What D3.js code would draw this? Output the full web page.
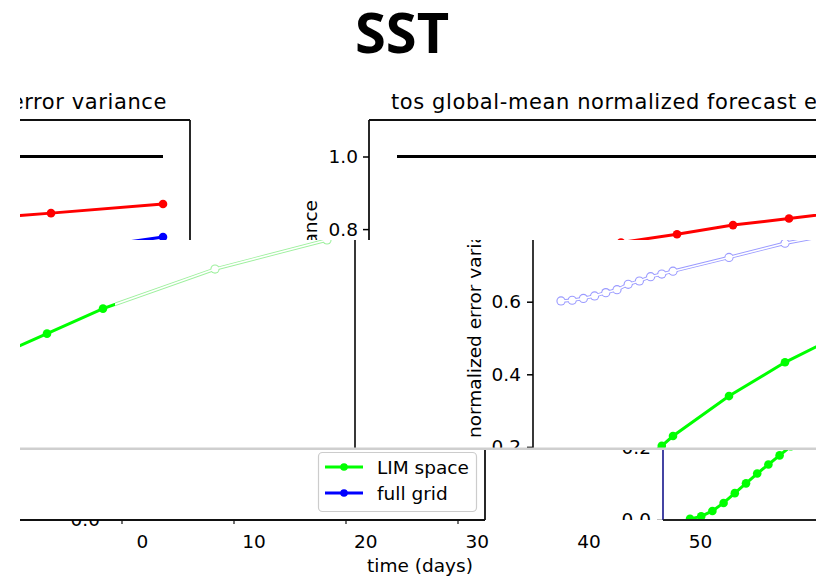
<!DOCTYPE html>
<html>
<head>
<meta charset="utf-8">
<script src="https://cdnjs.cloudflare.com/ajax/libs/d3/7.8.5/d3.min.js"></script>
<style>
  body { margin: 0; background: #fff; }
  text { font-family: "DejaVu Sans", sans-serif; }
</style>
</head>
<body>
<div id="chart"></div>
<script>
// ---- data ----
// right panel (lags in days)
var rightLags   = [0, 1, 2, 3, 4, 5, 6, 7, 8, 9, 10, 15, 20, 25, 30, 35, 40];
var limSpace    = [0.003, 0.010, 0.025, 0.047, 0.074, 0.101, 0.128, 0.153, 0.178, 0.203, 0.230, 0.340, 0.433, 0.510, 0.575, 0.630, 0.675];
var fullGrid    = [0.602, 0.604, 0.609, 0.616, 0.625, 0.633, 0.648, 0.657, 0.669, 0.676, 0.684, 0.722, 0.761, 0.790, 0.815, 0.835, 0.852];
var redSeries   = [0.630, 0.642, 0.654, 0.665, 0.676, 0.686, 0.696, 0.705, 0.714, 0.722, 0.730, 0.745, 0.763, 0.786, 0.811, 0.829, 0.848];
var refDays     = [0, 40];
var refValues   = [1.0, 1.0];

// left panel
var leftLags    = [15, 20, 25, 35, 45];
var leftLim     = [0.444, 0.512, 0.581, 0.690, 0.770];
var leftFull    = [0.640, 0.665, 0.690, 0.735, 0.778];
var leftRed     = [0.795, 0.807, 0.820, 0.844, 0.869];
var leftRefDays = [15, 45];

// axes / text
var xTickDays   = [0, 10, 20, 30, 40, 50];
var legendNames = ["LIM space", "full grid"];
var legendColors = ["#00ff00", "#0000ff"];
var mainTitle   = "SST";
var panelTitle  = "tos global-mean normalized forecast error variance";
var yLabel      = "normalized error variance";
var xLabel      = "time (days)";

var W = 825, H = 579;
var FS = 18.5;

var svg = d3.select("#chart").append("svg")
    .attr("width", W)
    .attr("height", H);
var defs = svg.append("defs");

function clip(id, x, y, w, h) {
    defs.append("clipPath").attr("id", id)
        .append("rect").attr("x", x).attr("y", y).attr("width", w).attr("height", h);
    return "url(#" + id + ")";
}

function pairs(days, vals) { return d3.zip(days, vals); }

function solidSeries(g, days, vals, x, y, color, withMarkers) {
    var line = d3.line().x(d => x(d[0])).y(d => y(d[1]));
    var data = pairs(days, vals);
    g.append("path").attr("d", line(data))
        .attr("fill", "none").attr("stroke", color).attr("stroke-width", 3);
    if (withMarkers) {
        g.selectAll(null).data(data).enter().append("circle")
            .attr("cx", d => x(d[0])).attr("cy", d => y(d[1]))
            .attr("r", 4.3).attr("fill", color);
    }
}

// glitchy outline-only rendering of a line with markers
function faintSeries(g, days, vals, x, y, color) {
    var line = d3.line().x(d => x(d[0])).y(d => y(d[1]));
    var data = pairs(days, vals);
    g.append("path").attr("d", line(data))
        .attr("fill", "none").attr("stroke", color).attr("stroke-width", 3.4);
    g.selectAll(null).data(data).enter().append("circle")
        .attr("cx", d => x(d[0])).attr("cy", d => y(d[1]))
        .attr("r", 4.6).attr("fill", color);
    g.append("path").attr("d", line(data))
        .attr("fill", "none").attr("stroke", "#fff").attr("stroke-width", 1.6);
    g.selectAll(null).data(data).enter().append("circle")
        .attr("cx", d => x(d[0])).attr("cy", d => y(d[1]))
        .attr("r", 3.5).attr("fill", "#fff");
}

function yTicks(g, scale, xPos, ticks, pad) {
    var ax = g.append("g")
        .attr("transform", "translate(" + xPos + ",0)")
        .call(d3.axisLeft(scale).tickValues(ticks).tickFormat(d3.format(".1f")).tickSize(6).tickPadding(pad));
    ax.select(".domain").remove();
    ax.attr("font-size", FS).attr("font-family", "DejaVu Sans");
    ax.selectAll("line").attr("stroke-width", 1.5);
    return ax;
}

function vline(g, x, y1, y2, color) {
    g.append("line").attr("x1", x).attr("x2", x).attr("y1", y1).attr("y2", y2)
        .attr("stroke", color || "#111").attr("stroke-width", 1.8);
}
function hline(g, y, x1, x2, color) {
    g.append("line").attr("x1", x1).attr("x2", x2).attr("y1", y).attr("y2", y)
        .attr("stroke", color || "#111").attr("stroke-width", 1.8);
}

// suptitle
svg.append("text")
    .attr("x", 402).attr("y", 53)
    .attr("text-anchor", "middle")
    .style("font-family", "'Open Sans', sans-serif")
    .style("font-weight", 700)
    .style("font-size", "56px")
    .text(mainTitle);

// ================= band 1 =================
var b1 = svg.append("g").attr("clip-path", clip("c1", 20, 60, 796, 180));
var yB1 = d3.scaleLinear().domain([0, 1]).range([519.5, 156.5]);

// left panel fragment
var xL1 = d3.scaleLinear().domain([35, 45]).range([51, 163]);
b1.append("text").attr("x", 167).attr("y", 109).attr("text-anchor", "end")
    .attr("font-size", 21).attr("letter-spacing", 0.6).text(panelTitle);
hline(b1, 120, 20, 190);
vline(b1, 190, 120, 240);
solidSeries(b1, leftRefDays, refValues, xL1, yB1, "#000", false);
solidSeries(b1, leftLags, leftRed, xL1, yB1, "#ff0000", true);
solidSeries(b1, leftLags, leftFull, xL1, yB1, "#0000ff", true);

// right panel
var xR1 = d3.scaleLinear().domain([0, 10]).range([397, 509]);
b1.append("text").attr("x", 391).attr("y", 109)
    .attr("font-size", 21).attr("letter-spacing", 0.6).text(panelTitle);
b1.append("text")
    .attr("transform", "translate(317,200) rotate(-90)")
    .attr("text-anchor", "end")
    .attr("font-size", FS).text(yLabel);
hline(b1, 120, 369, 816);
vline(b1, 369, 120, 240);
yTicks(b1, yB1, 369, [0.8, 1.0], 5);
solidSeries(b1, refDays, refValues, xR1, yB1, "#000", false);
solidSeries(b1, rightLags, redSeries, xR1, yB1, "#ff0000", true);

// ================= band 2 =================
var b2 = svg.append("g").attr("clip-path", clip("c2", 20, 240, 796, 208));
var yB2 = d3.scaleLinear().domain([0, 1]).range([519.5, 156.5]);

// left panel, LIM space line (solid part, then outline part)
var xL2 = d3.scaleLinear().domain([20, 25]).range([47, 103]);
var b2faint = b2.append("g").attr("clip-path", clip("c2f", 115, 200, 300, 260));
faintSeries(b2faint, leftLags, leftLim, xL2, yB2, "#9ef09e");
var b2solid = b2.append("g").attr("clip-path", clip("c2s", 0, 200, 115, 260));
solidSeries(b2solid, leftLags, leftLim, xL2, yB2, "#00ff00", true);
vline(b2, 355, 240, 448, "#222");

// right panel
var xR2 = d3.scaleLinear().domain([0, 10]).range([561, 673]);
b2.append("text")
    .attr("transform", "translate(481,438) rotate(-90)")
    .attr("font-size", FS).text(yLabel);
vline(b2, 533, 240, 448, "#222");
yTicks(b2, yB2, 533, [0.2, 0.4, 0.6], 6);
faintSeries(b2, rightLags, fullGrid, xR2, yB2, "#9a9aff");
solidSeries(b2, rightLags, limSpace, xR2, yB2, "#00ff00", true);

// separator
svg.append("rect").attr("x", 20).attr("y", 447.5).attr("width", 796).attr("height", 2.5)
    .attr("fill", "#cfcfcf");

// ================= band 3 =================
var b3 = svg.append("g").attr("clip-path", clip("c3", 20, 450, 796, 129));
var yB3 = d3.scaleLinear().domain([0, 1]).range([520, 157]);

// left panel bottom
hline(b3, 520, 20, 485);
vline(b3, 485, 450, 520);
var tickMarks = d3.scaleLinear().domain([0, 10]).range([122, 234]);
b3.selectAll(null).data(xTickDays.filter(d => tickMarks(d) < 485)).enter().append("line")
    .attr("x1", d => tickMarks(d)).attr("x2", d => tickMarks(d))
    .attr("y1", 520).attr("y2", 524)
    .attr("stroke", "#111").attr("stroke-width", 1.2);

var lowHalf = b3.append("g").attr("clip-path", clip("c3l", 20, 520, 200, 30));
var leftZero = yTicks(lowHalf, yB3, 110, [0.0], 4);
leftZero.selectAll("line").remove();

// legend
var leg = b3.append("g");
leg.append("rect").attr("x", 318.5).attr("y", 452.5).attr("width", 158).attr("height", 59)
    .attr("rx", 4).attr("fill", "#fff").attr("stroke", "#cccccc").attr("stroke-width", 1.2);
var legItems = leg.selectAll(null).data(legendNames).enter().append("g")
    .attr("transform", (d, i) => "translate(0," + (467 + i * 26) + ")");
legItems.append("line").attr("x1", 325).attr("x2", 363).attr("y1", 0).attr("y2", 0)
    .attr("stroke", (d, i) => legendColors[i]).attr("stroke-width", 3);
legItems.append("circle").attr("cx", 344).attr("cy", 0).attr("r", 3.8)
    .attr("fill", (d, i) => legendColors[i]);
legItems.append("text").attr("x", 377).attr("y", 6.5)
    .attr("font-size", FS).text(d => d);

// right panel fragment
var xR3 = d3.scaleLinear().domain([0, 10]).range([690, 802]);
var upHalf = b3.append("g").attr("clip-path", clip("c3u", 20, 450, 796, 70));
yTicks(upHalf, yB3, 663, [0.0, 0.2], 6);
solidSeries(upHalf, rightLags, limSpace, xR3, yB3, "#00ff00", true);
vline(b3, 663, 450, 520, "#30309a");
hline(b3, 520, 663, 816, "#222");

// x axis labels
var xLab = d3.scaleLinear().domain([0, 10]).range([142, 253.6]);
var xAx = b3.append("g")
    .attr("transform", "translate(0,520)")
    .call(d3.axisBottom(xLab).tickValues(xTickDays).tickSize(0).tickPadding(15));
xAx.select(".domain").remove();
xAx.attr("font-size", FS).attr("font-family", "DejaVu Sans");

b3.append("text").attr("x", 420).attr("y", 572)
    .attr("text-anchor", "middle").attr("font-size", FS).text(xLabel);
</script>
</body>
</html>
